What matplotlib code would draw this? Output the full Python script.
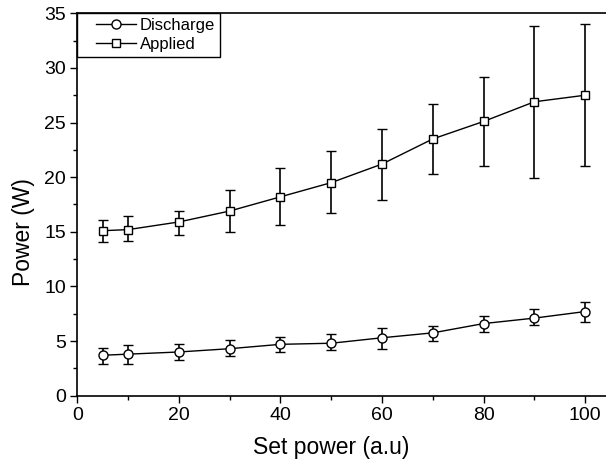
import matplotlib
matplotlib.use('Agg')
import numpy as np
import matplotlib.pyplot as plt
from matplotlib.ticker import MultipleLocator
from matplotlib.lines import Line2D
from matplotlib.legend_handler import HandlerLine2D

# ********** Data **********
set_power = [5, 10, 20, 30, 40, 50, 60, 70, 80, 90, 100]

discharge = [3.7, 3.8, 4.0, 4.3, 4.7, 4.8, 5.3, 5.75, 6.6, 7.1, 7.7]
discharge_lo = [2.9, 2.9, 3.3, 3.6, 4.0, 4.2, 4.3, 5.0, 5.8, 6.45, 6.7]
discharge_hi = [4.4, 4.6, 4.7, 5.1, 5.4, 5.6, 6.2, 6.4, 7.3, 7.9, 8.6]

applied = [15.1, 15.2, 15.9, 16.9, 18.2, 19.5, 21.2, 23.5, 25.1, 26.9, 27.5]
applied_lo = [14.1, 14.2, 14.7, 15.0, 15.6, 16.7, 17.9, 20.3, 21.0, 19.9, 21.0]
applied_hi = [16.1, 16.4, 16.9, 18.8, 20.8, 22.4, 24.4, 26.7, 29.2, 33.8, 34.0]
# **********************************************


def err(y, lo, hi):
    y = np.array(y)
    return [y - np.array(lo), np.array(hi) - y]


def main():
    plt.rcParams['font.family'] = ['Liberation Sans', 'DejaVu Sans']

    fig = plt.figure(figsize=(6.06, 4.61), dpi=100)
    ax = fig.add_axes([0.1276, 0.1417, 0.8724, 0.8295])

    style = dict(color='black', lw=1.0, elinewidth=1.2, capsize=3.5,
                 capthick=1.2, mfc='white', mec='black', mew=1.0)
    ax.errorbar(set_power, discharge, yerr=err(discharge, discharge_lo, discharge_hi),
                marker='o', ms=6.5, **style)
    ax.errorbar(set_power, applied, yerr=err(applied, applied_lo, applied_hi),
                marker='s', ms=5.5, **style)

    ax.set_xlim(0, 104.1)
    ax.set_ylim(0, 35)
    ax.xaxis.set_major_locator(MultipleLocator(20))
    ax.xaxis.set_minor_locator(MultipleLocator(10))
    ax.yaxis.set_major_locator(MultipleLocator(5))
    ax.yaxis.set_minor_locator(MultipleLocator(2.5))
    ax.tick_params(which='both', direction='out', width=1.0, labelsize=14, pad=3)
    ax.tick_params(which='major', length=5)
    ax.tick_params(which='minor', length=3)
    ax.tick_params(top=False, right=False, which='both')
    ax.spines['right'].set_visible(False)
    for s in ['left', 'bottom', 'top']:
        ax.spines[s].set_linewidth(1.2)

    ax.set_xlabel('Set power (a.u)', fontsize=16.5)
    ax.set_ylabel('Power (W)', fontsize=16.5)
    ax.xaxis.set_label_coords(0.48, -0.105)
    ax.yaxis.set_label_coords(-0.08, 0.428)

    # legend shows only line + marker (no error bars)
    h1 = Line2D([], [], color='black', lw=1.0, marker='o', ms=6.5,
                mfc='white', mec='black', mew=1.0)
    h2 = Line2D([], [], color='black', lw=1.0, marker='s', ms=5.5,
                mfc='white', mec='black', mew=1.0)
    leg = ax.legend([h1, h2], ['Discharge', 'Applied'],
                    loc='upper left', bbox_to_anchor=(0, 1), borderaxespad=0,
                    fontsize=12, fancybox=False, framealpha=1, edgecolor='black',
                    handlelength=3.2, handletextpad=0.25, borderpad=0.3,
                    labelspacing=0.2,
                    handler_map={Line2D: HandlerLine2D(xpad=0.84)})
    leg.get_frame().set_linewidth(1.0)

    fig.savefig('out.png', dpi=100)


if __name__ == '__main__':
    main()
